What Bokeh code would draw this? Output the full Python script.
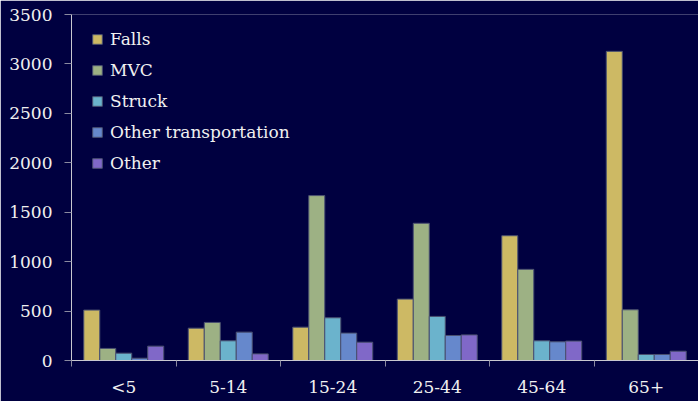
from bokeh.plotting import figure
from bokeh.models import FixedTicker, Legend, LegendItem, ColumnDataSource, Range1d
from bokeh.embed import file_html
from bokeh.resources import INLINE

categories = ["<5", "5-14", "15-24", "25-44", "45-64", "65+"]
series_names = ["Falls", "MVC", "Struck", "Other transportation", "Other"]
falls = [510, 327, 337, 621, 1262, 3127]
mvc = [122, 385, 1668, 1388, 922, 513]
struck = [74, 199, 432, 446, 199, 61]
other_transport = [23, 287, 277, 253, 189, 61]
other = [145, 67, 185, 259, 196, 94]
colors = ["#CDB964", "#9DB184", "#6BB3CC", "#6688CC", "#8068C8"]
y_ticks = [0, 500, 1000, 1500, 2000, 2500, 3000, 3500]

FONT = "DejaVu Serif"
BG = "#000040"

p = figure(width=698, height=401, output_backend="svg", toolbar_location=None,
           x_range=Range1d(0, 6), y_range=Range1d(0, 3500),
           min_border_left=71, min_border_right=0, min_border_top=14, min_border_bottom=41)
p.background_fill_color = BG
p.border_fill_color = BG
p.outline_line_color = None
p.grid.visible = False

bar_w = 0.153
series = [falls, mvc, struck, other_transport, other]
items = []
for k, (name, vals, col) in enumerate(zip(series_names, series, colors)):
    off = (k - 2) * bar_w
    src = ColumnDataSource(dict(x=[i + 0.5 + off for i in range(len(categories))], top=vals))
    r = p.vbar(x="x", top="top", width=bar_w, bottom=0, source=src,
               fill_color=col, line_color="#4a5070", line_width=1)
    items.append(LegendItem(label=name, renderers=[r]))

# x axis
p.xaxis.ticker = FixedTicker(ticks=[i + 0.5 for i in range(len(categories))],
                             minor_ticks=list(range(0, len(categories) + 1)))
p.xaxis.major_label_overrides = {i + 0.5: c for i, c in enumerate(categories)}
p.xaxis.major_tick_out = 0
p.xaxis.major_tick_in = 0
p.xaxis.minor_tick_out = 6
p.xaxis.minor_tick_in = 0
p.xaxis.minor_tick_line_color = "#8a8aa0"
p.xaxis.axis_line_color = "#C8C8D0"
p.xaxis.major_label_standoff = 10

# y axis
p.yaxis.ticker = FixedTicker(ticks=y_ticks)
p.yaxis.minor_tick_line_color = None
p.yaxis.major_tick_out = 7
p.yaxis.major_tick_in = 0
p.yaxis.major_tick_line_color = "#8a8aa0"
p.yaxis.axis_line_color = "#C8C8D0"
p.yaxis.major_label_standoff = 12

for ax in [p.xaxis, p.yaxis]:
    ax.major_label_text_font = FONT
    ax.major_label_text_font_size = "17px"
    ax.major_label_text_color = "#F0F0F0"

legend = Legend(items=items, location=(20, 187))
legend.background_fill_alpha = 0
legend.border_line_color = None
legend.label_text_font = FONT
legend.label_text_font_size = "17px"
legend.label_text_color = "#F0F0F0"
legend.glyph_width = 12
legend.glyph_height = 12
legend.label_height = 20
legend.spacing = 11
legend.padding = 6
legend.margin = 0
legend.label_standoff = 7
p.add_layout(legend)

open("out.html", "w").write(file_html(p, INLINE))
